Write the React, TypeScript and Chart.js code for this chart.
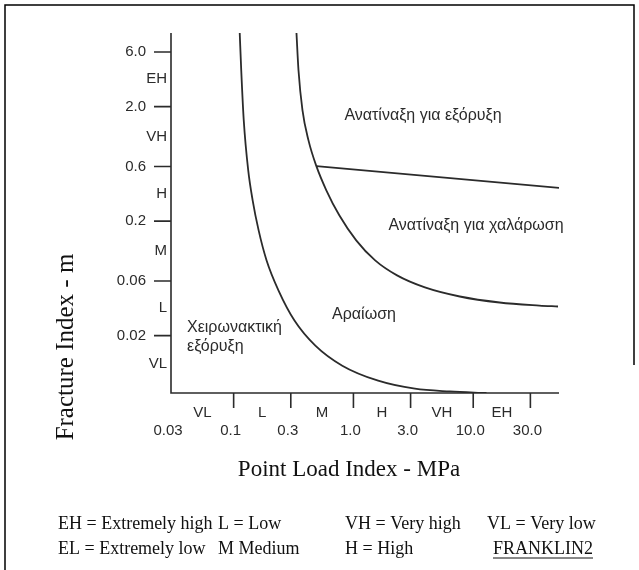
import { useEffect, useRef } from "react";
import { Chart, registerables } from "chart.js";

Chart.register(...registerables);

// Axis ranges (log scales)
const X_MIN = 0.03;
const X_MAX = 52;
const Y_MIN = 0.0063;
const Y_MAX = 8.8;

// Tick values and labels
const xTickValues = [0.1, 0.3, 1, 3, 10, 30];
const xNumberValues = [0.03, 0.1, 0.3, 1, 3, 10, 30];
const xNumberLabels = ["0.03", "0.1", "0.3", "1.0", "3.0", "10.0", "30.0"];
const xClassBounds = [0.03, 0.1, 0.3, 1, 3, 10, 30];
const xClassLabels = ["VL", "L", "M", "H", "VH", "EH"];

const yTickValues = [0.02, 0.06, 0.2, 0.6, 2, 6];
const yTickLabels = ["0.02", "0.06", "0.2", "0.6", "2.0", "6.0"];
const yClassBounds = [Y_MIN, 0.02, 0.06, 0.2, 0.6, 2, 6];
const yClassLabels = ["VL", "L", "M", "H", "VH", "EH"];

// Boundary curves (Point Load Index MPa, Fracture Index m)
const curve1X = [0.1124, 0.1157, 0.1214, 0.1323, 0.1441, 0.1617, 0.1884, 0.2371, 0.322, 0.481, 0.807, 1.608, 3.26, 6.38, 12.9];
const curve1Y = [8.8, 4.18, 1.53, 0.557, 0.304, 0.166, 0.0907, 0.0495, 0.0271, 0.01635, 0.01092, 0.00807, 0.00687, 0.0065, 0.0063];

const curve2X = [0.3346, 0.3477, 0.3754, 0.421, 0.4906, 0.594, 0.762, 1.055, 1.518, 2.313, 3.95, 7.72, 16.6, 35.7, 51];
const curve2Y = [8.8, 4.18, 1.868, 1.02, 0.604, 0.372, 0.2248, 0.1358, 0.0907, 0.0671, 0.0527, 0.0439, 0.0389, 0.0366, 0.0359];

const line3X = [0.4906, 52];
const line3Y = [0.604, 0.39];

const legendRow1 = ["EH = Extremely high", "L = Low", "VH = Very high", "VL = Very low"];
const legendRow2 = ["EL = Extremely low", "M Medium", "H = High", "FRANKLIN2"];

const toPts = (xs: number[], ys: number[]) => xs.map((x, i) => ({ x, y: ys[i] }));

export default function App() {
  const ref = useRef<HTMLCanvasElement | null>(null);

  useEffect(() => {
    document.body.style.margin = "0";
    document.body.style.overflow = "hidden";
    const canvas = ref.current;
    if (!canvas) return;

    const INK = "#2b2b2b";

    const decor = {
      id: "decor",
      afterDraw(chart: any) {
        const ctx = chart.ctx as CanvasRenderingContext2D;
        const xs = chart.scales.x;
        const ys = chart.scales.y;
        const { left, right, top, bottom } = chart.chartArea;
        ctx.save();

        // frame
        ctx.strokeStyle = "#000";
        ctx.lineWidth = 1.5;
        ctx.beginPath();
        ctx.moveTo(5, 570);
        ctx.lineTo(5, 5);
        ctx.lineTo(634, 5);
        ctx.lineTo(634, 365);
        ctx.stroke();

        // axes
        ctx.strokeStyle = INK;
        ctx.lineWidth = 1.6;
        ctx.beginPath();
        ctx.moveTo(left, top);
        ctx.lineTo(left, bottom);
        ctx.lineTo(right, bottom);
        ctx.stroke();

        // x ticks
        ctx.beginPath();
        xTickValues.forEach((v) => {
          const px = xs.getPixelForValue(v);
          ctx.moveTo(px, bottom);
          ctx.lineTo(px, bottom + 15);
        });
        // y ticks
        yTickValues.forEach((v) => {
          const py = ys.getPixelForValue(v);
          ctx.moveTo(left - 17, py);
          ctx.lineTo(left, py);
        });
        ctx.stroke();

        ctx.fillStyle = INK;
        ctx.font = "15px 'Liberation Sans', Arial, sans-serif";
        ctx.textBaseline = "middle";

        // x number labels
        ctx.textAlign = "center";
        xNumberValues.forEach((v, i) => {
          const px = xs.getPixelForValue(v);
          ctx.fillText(xNumberLabels[i], px - 3, bottom + 38);
        });
        // x class labels
        xClassLabels.forEach((lab, i) => {
          const a = xs.getPixelForValue(xClassBounds[i]);
          const b = xs.getPixelForValue(xClassBounds[i + 1]);
          ctx.fillText(lab, (a + b) / 2, bottom + 20);
        });

        // y number labels
        ctx.textAlign = "right";
        yTickValues.forEach((v, i) => {
          const py = ys.getPixelForValue(v);
          ctx.fillText(yTickLabels[i], left - 25, py);
        });
        // y class labels
        yClassLabels.forEach((lab, i) => {
          const a = ys.getPixelForValue(yClassBounds[i]);
          const b = ys.getPixelForValue(yClassBounds[i + 1]);
          ctx.fillText(lab, left - 4, (a + b) / 2);
        });

        // region labels
        ctx.font = "16px 'Liberation Sans', Arial, sans-serif";
        ctx.textAlign = "center";
        ctx.fillText("Ανατίναξη για εξόρυξη", 423, 116);
        ctx.fillText("Ανατίναξη για χαλάρωση", 476, 226);
        ctx.fillText("Αραίωση", 364, 315);
        ctx.textAlign = "left";
        ctx.fillText("Χειρωνακτική", 187, 328);
        ctx.fillText("εξόρυξη", 187, 347);

        // axis titles
        ctx.fillStyle = "#111";
        ctx.font = "23px 'Liberation Serif', 'Times New Roman', serif";
        ctx.textAlign = "center";
        ctx.fillText("Point Load Index - MPa", 349, 470);
        ctx.save();
        ctx.translate(66, 347);
        ctx.rotate(-Math.PI / 2);
        ctx.font = "25px 'Liberation Serif', 'Times New Roman', serif";
        ctx.fillText("Fracture Index - m", 0, 0);
        ctx.restore();

        // legend text
        ctx.font = "18px 'Liberation Serif', 'Times New Roman', serif";
        ctx.textAlign = "left";
        const cols = [58, 218, 345, 487];
        const cols2 = [58, 218, 345, 493];
        legendRow1.forEach((t, i) => ctx.fillText(t, cols[i], 524));
        legendRow2.forEach((t, i) => ctx.fillText(t, cols2[i], 549));
        const w = ctx.measureText(legendRow2[3]).width;
        ctx.lineWidth = 1;
        ctx.strokeStyle = "#111";
        ctx.beginPath();
        ctx.moveTo(cols2[3], 558);
        ctx.lineTo(cols2[3] + w, 558);
        ctx.stroke();

        ctx.restore();
      },
    };

    const lineStyle = {
      borderColor: INK,
      borderWidth: 1.8,
      pointRadius: 0,
      fill: false,
      cubicInterpolationMode: "monotone" as const,
    };

    const chart = new Chart(canvas, {
      type: "line",
      data: {
        datasets: [
          { label: "c1", data: toPts(curve1X, curve1Y), ...lineStyle },
          { label: "c2", data: toPts(curve2X, curve2Y), ...lineStyle },
          { label: "c3", data: toPts(line3X, line3Y), ...lineStyle, cubicInterpolationMode: "default" as const, tension: 0 },
        ],
      },
      options: {
        responsive: false,
        animation: false,
        devicePixelRatio: 1,
        layout: { padding: { left: 171, right: 80, top: 33, bottom: 177 } },
        plugins: { legend: { display: false }, tooltip: { enabled: false }, title: { display: false } },
        scales: {
          x: { type: "logarithmic", min: X_MIN, max: X_MAX, display: false },
          y: { type: "logarithmic", min: Y_MIN, max: Y_MAX, display: false },
        },
      },
      plugins: [decor],
    });

    return () => chart.destroy();
  }, []);

  return <canvas ref={ref} width={639} height={570} style={{ display: "block", width: 639, height: 570 }} />;
}
